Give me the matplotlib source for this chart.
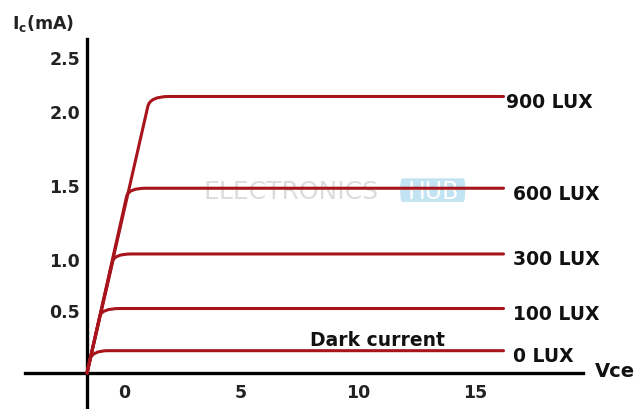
import numpy as np
import matplotlib.pyplot as plt
from matplotlib.path import Path
from matplotlib.patches import PathPatch, FancyBboxPatch

# Curve data (Vce in units from the origin, Ic in mA)
lux_labels = ['0 LUX', '100 LUX', '300 LUX', '600 LUX', '900 LUX']
plateau_ic = [0.18, 0.52, 0.96, 1.49, 2.23]     # saturation current
knee_vce = [0.13, 0.55, 1.10, 1.70, 2.60]       # where the bend starts
knee_ic = [0.11, 0.46, 0.90, 1.43, 2.15]
flat_vce = [0.90, 1.40, 1.90, 2.50, 3.50]       # where the curve goes flat
end_vce = 17.8

xtick_labels = ['0', '5', '10', '15']
xtick_vals = [0, 5, 10, 15]
ytick_labels = ['0.5', '1.0', '1.5', '2.0', '2.5']
ytick_vals = [0.49, 0.90, 1.50, 2.10, 2.53]

line_color = '#a8141c'
plt.rcParams['font.family'] = ['DejaVu Sans']

fig = plt.figure(figsize=(6.37, 4.10), dpi=100)
ax = fig.add_axes([0, 0, 1, 1])
ax.set_xlim(-87 / 23.4, 550 / 23.4)
ax.set_ylim(-36 / 124, 374 / 124)

# curves: steep rise, rounded knee, flat saturation region
steep = knee_vce[-1] / knee_ic[-1]
for i in range(len(lux_labels)):
    corner = (plateau_ic[i] * steep, plateau_ic[i])
    verts = [(0, 0), (knee_vce[i], knee_ic[i]), corner,
             (flat_vce[i], plateau_ic[i]), (end_vce, plateau_ic[i])]
    codes = [Path.MOVETO, Path.LINETO, Path.CURVE3, Path.CURVE3, Path.LINETO]
    ax.add_patch(PathPatch(Path(verts, codes), fill=False, edgecolor=line_color,
                           lw=2.2, capstyle='round', joinstyle='round', zorder=3))
    x0 = 17.9 if i == len(lux_labels) - 1 else 18.2
    ax.text(x0, plateau_ic[i] - 0.04, lux_labels[i], fontsize=13.5,
            fontweight='bold', va='center', ha='left', color='#111111')

# axes through the origin
for s in ['top', 'right']:
    ax.spines[s].set_visible(False)
ax.spines['left'].set_position(('data', 0))
ax.spines['bottom'].set_position(('data', 0))
ax.spines['left'].set_bounds(-1, (374 - 40) / 124)
ax.spines['bottom'].set_bounds(-62 / 23.4, 496 / 23.4)
ax.spines['left'].set_linewidth(2.4)
ax.spines['bottom'].set_linewidth(2.4)
ax.set_xticks([])
ax.set_yticks([])

for lab, v in zip(xtick_labels, xtick_vals):
    ax.text(v + 1.58, -0.155, lab, fontsize=12.5, fontweight='bold',
            ha='center', va='center', color='#222222')
for lab, v in zip(ytick_labels, ytick_vals):
    ax.text(-0.3, v, lab, fontsize=12.5, fontweight='bold',
            ha='right', va='center', color='#222222')

ax.text(-3.2, 2.83, r'$\mathbf{I_c}$(mA)', fontsize=12.5, fontweight='bold',
        ha='left', va='center', color='#222222')
ax.text(21.7, 0.02, 'Vce', fontsize=14, fontweight='bold', ha='left',
        va='center', color='#111111')
ax.text(9.55, 0.27, 'Dark current', fontsize=13.5, fontweight='bold',
        ha='left', va='center', color='#111111')

# faint watermark
ax.text(5.0, 1.47, 'ELECTRONICS', fontsize=18, color='#d4d4d4', alpha=0.8,
        ha='left', va='center', zorder=1)
ax.add_patch(FancyBboxPatch((13.4, 1.40), 2.75, 0.15,
                            boxstyle='round,pad=0.02,rounding_size=0.1',
                            fc='#b3dcef', ec='none', alpha=0.8, zorder=1))
ax.text(14.78, 1.47, 'HUB', fontsize=17, color='white', ha='center',
        va='center', zorder=2)

fig.savefig('out.png', dpi=100)
